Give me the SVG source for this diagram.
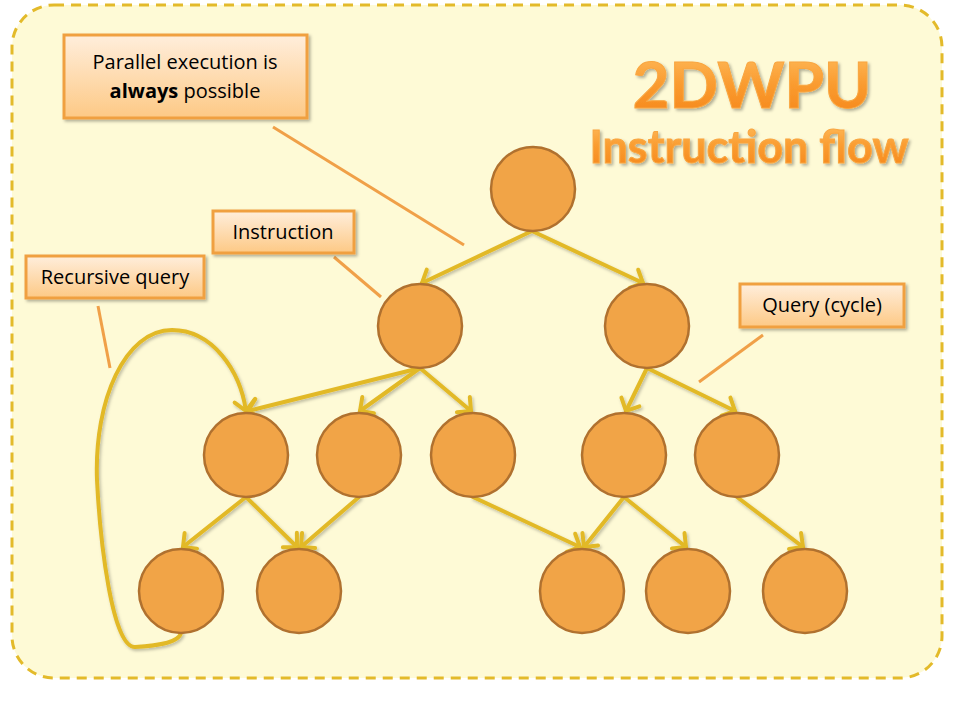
<svg xmlns="http://www.w3.org/2000/svg" width="960" height="720" viewBox="0 0 960 720">
<defs>
<style>
.node{fill:#F1A447;stroke:#B0712F;stroke-width:2.5}
.edge{fill:none;stroke:#E2B928;stroke-width:4;stroke-linecap:round;marker-end:url(#arr)}
.call{fill:none;stroke:#F0A048;stroke-width:3}
.box{fill:url(#boxg);stroke:#F0A040;stroke-width:3}
.lbl{font-family:"Open Sans","Liberation Sans",sans-serif;font-size:20px;fill:#000;text-anchor:middle}
.title{font-family:Lato,"Liberation Sans",sans-serif;font-weight:bold;fill:url(#tg);stroke:#F9A640;stroke-width:1;text-anchor:middle}
</style>
<linearGradient id="boxg" x1="0" y1="0" x2="0" y2="1">
<stop offset="0" stop-color="#FFEEDC"/>
<stop offset="1" stop-color="#FDC985"/>
</linearGradient>
<linearGradient id="tg" x1="0" y1="0" x2="0" y2="1">
<stop offset="0" stop-color="#FFC064"/>
<stop offset="0.5" stop-color="#FA9C30"/>
<stop offset="1" stop-color="#F58418"/>
</linearGradient>
<filter id="sh" x="-20%" y="-20%" width="140%" height="150%">
<feDropShadow dx="2" dy="2" stdDeviation="1.5" flood-color="#000" flood-opacity="0.3"/>
</filter>
<filter id="esh" x="-10%" y="-10%" width="120%" height="120%">
<feDropShadow dx="1.5" dy="2" stdDeviation="1.5" flood-color="#000" flood-opacity="0.25"/>
</filter>
<marker id="arr" markerUnits="userSpaceOnUse" markerWidth="26" markerHeight="26" refX="13" refY="13" orient="auto" viewBox="0 0 26 26">
<path d="M3,3 L13,13 L3,23" fill="none" stroke="#E2B928" stroke-width="4" stroke-linecap="round" stroke-linejoin="miter"/>
</marker>
</defs>

<rect x="12" y="5" width="930" height="673" rx="42" ry="42" fill="#FEFAD6" stroke="#E3BA2A" stroke-width="3" stroke-dasharray="10,7"/>

<g id="title" filter="url(#sh)">
<text class="title" x="752" y="108" font-size="64">2DWPU</text>
<text class="title" x="749" y="163" font-size="45">Instruction flow</text>
</g>

<g id="connectors" filter="url(#esh)">
<path class="edge" d="M532,231 L422,283"/>
<path class="edge" d="M532,231 L643,283"/>
<path class="edge" d="M420,368 L248,411"/>
<path class="edge" d="M420,368 L360,411"/>
<path class="edge" d="M420,368 L471,411"/>
<path class="edge" d="M647,368 L626,411"/>
<path class="edge" d="M647,368 L735,411"/>
<path class="edge" d="M246,497 L183,547"/>
<path class="edge" d="M246,497 L297,547"/>
<path class="edge" d="M359,497 L301,547"/>
<path class="edge" d="M473,497 L580,547"/>
<path class="edge" d="M624,497 L584,547"/>
<path class="edge" d="M624,497 L686,547"/>
<path class="edge" d="M737,497 L803,547"/>
<path class="edge" d="M181,633 C178,644 152,646 135,647 C112,648 100,540 97,480 C94,400 125,330 172,330 C212,330 240,370 246,411"/>
</g>

<g id="callouts">
<line class="call" x1="273" y1="127" x2="464" y2="245"/>
<line class="call" x1="334" y1="257" x2="381" y2="297"/>
<line class="call" x1="98" y1="306" x2="110" y2="368"/>
<line class="call" x1="763" y1="335" x2="699" y2="382"/>
</g>

<g id="n0"><circle class="node" cx="533" cy="189" r="42"/></g>
<g id="n1"><circle class="node" cx="420" cy="326" r="42"/></g>
<g id="n2"><circle class="node" cx="647" cy="326" r="42"/></g>
<g id="n3"><circle class="node" cx="246" cy="455" r="42"/></g>
<g id="n4"><circle class="node" cx="359" cy="455" r="42"/></g>
<g id="n5"><circle class="node" cx="473" cy="455" r="42"/></g>
<g id="n6"><circle class="node" cx="624" cy="455" r="42"/></g>
<g id="n7"><circle class="node" cx="737" cy="455" r="42"/></g>
<g id="n8"><circle class="node" cx="181" cy="591" r="42"/></g>
<g id="n9"><circle class="node" cx="299" cy="591" r="42"/></g>
<g id="n10"><circle class="node" cx="582" cy="591" r="42"/></g>
<g id="n11"><circle class="node" cx="688" cy="591" r="42"/></g>
<g id="n12"><circle class="node" cx="805" cy="591" r="42"/></g>

<g id="label-parallel">
<rect class="box" x="64" y="35" width="243" height="83" filter="url(#sh)"/>
<text class="lbl" x="185" y="69">Parallel execution is</text>
<text class="lbl" x="185" y="98"><tspan font-weight="bold">always</tspan> possible</text>
</g>
<g id="label-instruction">
<rect class="box" x="213" y="211" width="141" height="42" filter="url(#sh)"/>
<text class="lbl" x="283" y="239">Instruction</text>
</g>
<g id="label-recursive">
<rect class="box" x="26" y="256" width="178" height="42" filter="url(#sh)"/>
<text class="lbl" x="115" y="284">Recursive query</text>
</g>
<g id="label-query">
<rect class="box" x="740" y="284" width="164" height="43" filter="url(#sh)"/>
<text class="lbl" x="822" y="312">Query (cycle)</text>
</g>
</svg>
